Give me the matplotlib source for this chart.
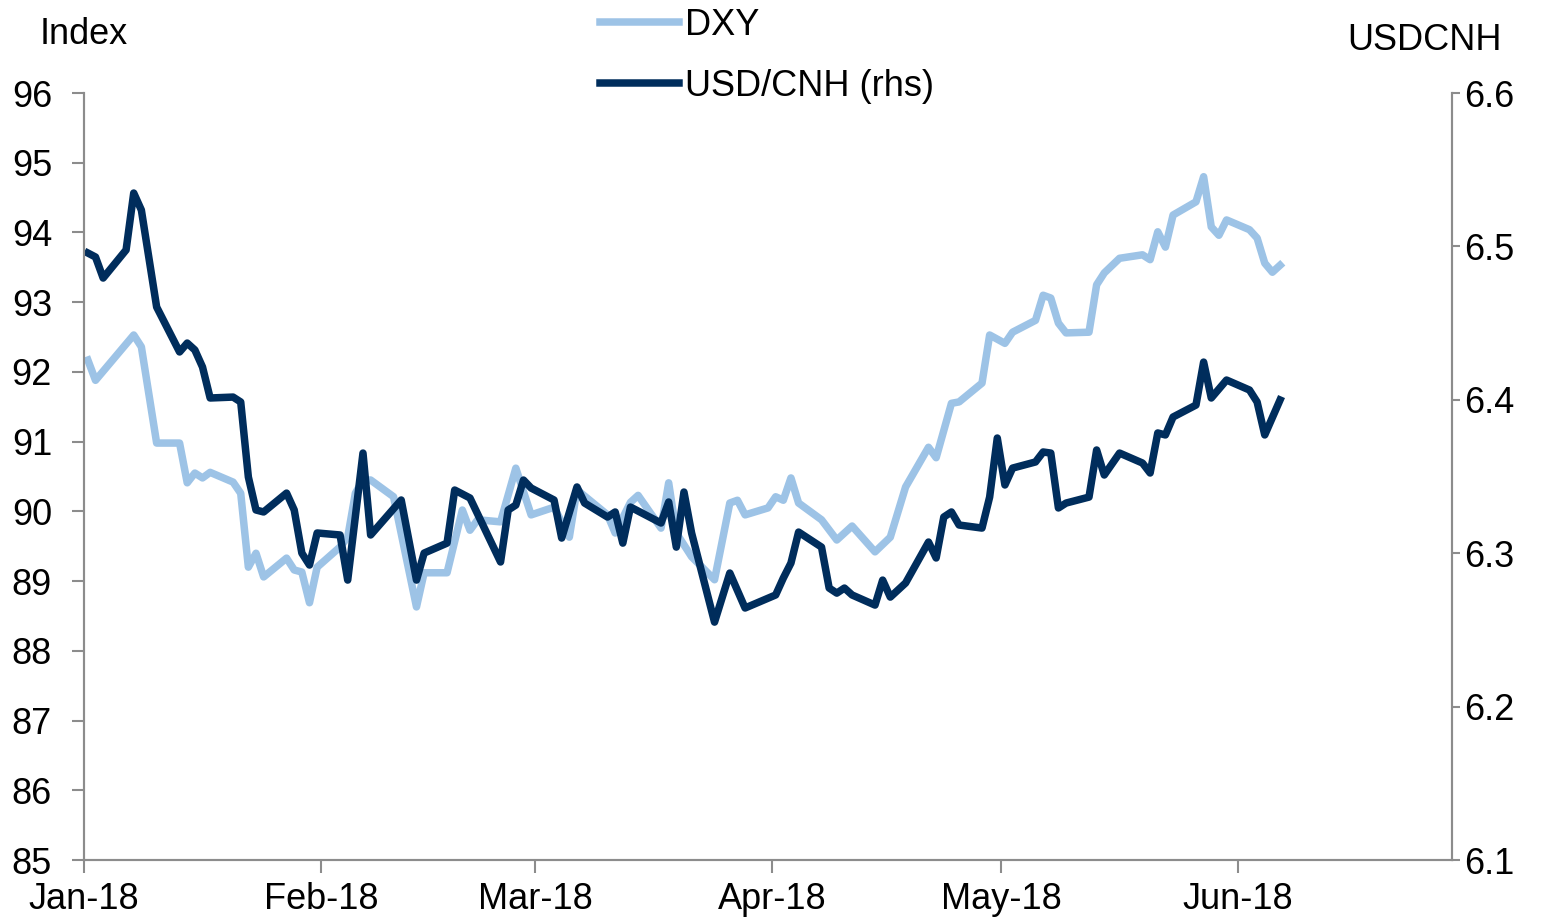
import numpy as np
import pandas as pd
import matplotlib
matplotlib.use("Agg")
import matplotlib.pyplot as plt
import matplotlib.dates as mdates

plt.rcParams['font.family'] = ['Liberation Sans', 'DejaVu Sans']

# DXY index (left axis), vertices
dxy_dates = ["2018-01-01", "2018-01-02", "2018-01-07", "2018-01-08", "2018-01-10",
             "2018-01-13", "2018-01-14", "2018-01-15", "2018-01-16", "2018-01-17",
             "2018-01-20", "2018-01-21", "2018-01-22", "2018-01-23", "2018-01-24",
             "2018-01-27", "2018-01-28", "2018-01-29", "2018-01-30", "2018-01-31",
             "2018-02-03", "2018-02-04", "2018-02-05", "2018-02-06", "2018-02-07",
             "2018-02-10", "2018-02-13", "2018-02-14", "2018-02-17", "2018-02-19",
             "2018-02-20", "2018-02-21", "2018-02-24", "2018-02-26", "2018-02-28",
             "2018-03-03", "2018-03-05", "2018-03-06", "2018-03-10", "2018-03-11",
             "2018-03-13", "2018-03-14", "2018-03-17", "2018-03-18", "2018-03-19",
             "2018-03-21", "2018-03-24", "2018-03-26", "2018-03-27", "2018-03-28",
             "2018-03-31", "2018-04-01", "2018-04-02", "2018-04-03", "2018-04-04",
             "2018-04-07", "2018-04-09", "2018-04-11", "2018-04-14", "2018-04-16",
             "2018-04-18", "2018-04-21", "2018-04-22", "2018-04-24", "2018-04-25",
             "2018-04-28", "2018-04-29", "2018-05-01", "2018-05-02", "2018-05-05",
             "2018-05-06", "2018-05-07", "2018-05-08", "2018-05-09", "2018-05-12",
             "2018-05-13", "2018-05-14", "2018-05-16", "2018-05-19", "2018-05-20",
             "2018-05-21", "2018-05-22", "2018-05-23", "2018-05-26", "2018-05-27",
             "2018-05-28", "2018-05-29", "2018-05-30", "2018-06-02", "2018-06-03",
             "2018-06-04", "2018-06-05", "2018-06-06"]
dxy_values = [92.17, 91.88, 92.53, 92.36, 90.98,
              90.98, 90.41, 90.55, 90.48, 90.56,
              90.42, 90.26, 89.20, 89.40, 89.06,
              89.33, 89.16, 89.13, 88.69, 89.20,
              89.49, 89.63, 90.26, 90.45, 90.45,
              90.21, 88.63, 89.12, 89.12, 90.02,
              89.73, 89.88, 89.85, 90.62, 89.95,
              90.06, 89.63, 90.31, 89.95, 89.69,
              90.13, 90.23, 89.76, 90.41, 89.69,
              89.35, 89.02, 90.12, 90.16, 89.95,
              90.05, 90.21, 90.16, 90.48, 90.12,
              89.88, 89.59, 89.79, 89.42, 89.63,
              90.35, 90.92, 90.77, 91.55, 91.57,
              91.84, 92.53, 92.41, 92.57, 92.74,
              93.10, 93.06, 92.70, 92.56, 92.57,
              93.25, 93.42, 93.63, 93.68, 93.61,
              94.01, 93.79, 94.25, 94.44, 94.80,
              94.08, 93.96, 94.18, 94.04, 93.92,
              93.56, 93.43, 93.53]

# USD/CNH (right axis)
cnh_dates = ["2018-01-01", "2018-01-02", "2018-01-03", "2018-01-06", "2018-01-07",
             "2018-01-08", "2018-01-10", "2018-01-13", "2018-01-14", "2018-01-15",
             "2018-01-16", "2018-01-17", "2018-01-20", "2018-01-21", "2018-01-22",
             "2018-01-23", "2018-01-24", "2018-01-27", "2018-01-28", "2018-01-29",
             "2018-01-30", "2018-01-31", "2018-02-03", "2018-02-04", "2018-02-06",
             "2018-02-07", "2018-02-11", "2018-02-13", "2018-02-14", "2018-02-17",
             "2018-02-18", "2018-02-20", "2018-02-24", "2018-02-25", "2018-02-26",
             "2018-02-27", "2018-02-28", "2018-03-03", "2018-03-04", "2018-03-06",
             "2018-03-07", "2018-03-10", "2018-03-11", "2018-03-12", "2018-03-13",
             "2018-03-17", "2018-03-18", "2018-03-19", "2018-03-20", "2018-03-21",
             "2018-03-24", "2018-03-26", "2018-03-28", "2018-04-01", "2018-04-02",
             "2018-04-03", "2018-04-04", "2018-04-07", "2018-04-08", "2018-04-09",
             "2018-04-10", "2018-04-11", "2018-04-14", "2018-04-15", "2018-04-16",
             "2018-04-18", "2018-04-21", "2018-04-22", "2018-04-23", "2018-04-24",
             "2018-04-25", "2018-04-28", "2018-04-29", "2018-04-30", "2018-05-01",
             "2018-05-02", "2018-05-05", "2018-05-06", "2018-05-07", "2018-05-08",
             "2018-05-09", "2018-05-12", "2018-05-13", "2018-05-14", "2018-05-16",
             "2018-05-19", "2018-05-20", "2018-05-21", "2018-05-22", "2018-05-23",
             "2018-05-26", "2018-05-27", "2018-05-28", "2018-05-30", "2018-06-02",
             "2018-06-03", "2018-06-04", "2018-06-06"]
cnh_values = [6.4957, 6.4931, 6.4794, 6.4977, 6.5348,
              6.5237, 6.4605, 6.4312, 6.4370, 6.4325,
              6.4214, 6.4012, 6.4018, 6.3986, 6.3497,
              6.3282, 6.3269, 6.3392, 6.3282, 6.3001,
              6.2923, 6.3132, 6.3119, 6.2825, 6.3653,
              6.3119, 6.3347, 6.2825, 6.3001, 6.3066,
              6.3412, 6.3360, 6.2943, 6.3282, 6.3314,
              6.3477, 6.3425, 6.3347, 6.3099, 6.3432,
              6.3327, 6.3236, 6.3269, 6.3066, 6.3301,
              6.3197, 6.3334, 6.3040, 6.3399, 6.3132,
              6.2551, 6.2871, 6.2643, 6.2728, 6.2838,
              6.2936, 6.3138, 6.3040, 6.2773, 6.2740,
              6.2773, 6.2728, 6.2662, 6.2825, 6.2714,
              6.2806, 6.3073, 6.2969, 6.3236, 6.3269,
              6.3184, 6.3164, 6.3366, 6.3751, 6.3445,
              6.3555, 6.3595, 6.3660, 6.3653, 6.3295,
              6.3327, 6.3366, 6.3673, 6.3510, 6.3653,
              6.3588, 6.3523, 6.3784, 6.3771, 6.3888,
              6.3966, 6.4246, 6.4012, 6.4129, 6.4064,
              6.3986, 6.3771, 6.3999]

left_ticks = list(range(85, 97))
right_ticks = [6.1, 6.2, 6.3, 6.4, 6.5, 6.6]
month_ticks = ["2018-01-01", "2018-02-01", "2018-03-01", "2018-04-01", "2018-05-01", "2018-06-01"]

light = "#9DC3E6"
dark = "#002D5C"
grey = "#8C8C8C"

# points sit in the middle of their day, like an Excel date axis
half_day = pd.Timedelta(hours=12)
dxy_x = pd.to_datetime(dxy_dates) + half_day
cnh_x = pd.to_datetime(cnh_dates) + half_day

fig = plt.figure(figsize=(15.45, 9.22), dpi=100)
ax = fig.add_axes([0.0544, 0.0672, 0.8854, 0.8319])
ax2 = ax.twinx()

l1, = ax.plot(dxy_x, dxy_values, color=light, lw=5.4, label="DXY", solid_joinstyle="round")
l2, = ax2.plot(cnh_x, cnh_values, color=dark, lw=5.4, label="USD/CNH (rhs)", solid_joinstyle="round")

ax.set_xlim(pd.Timestamp("2018-01-01"), pd.Timestamp("2018-06-29"))
ax.set_ylim(85, 96)
ax2.set_ylim(6.1, 6.6)
ax.set_yticks(left_ticks)
ax2.set_yticks(right_ticks)
ax2.set_yticklabels([f"{v:.1f}" for v in right_ticks])
ax.set_xticks(pd.to_datetime(month_ticks))
ax.xaxis.set_major_formatter(mdates.DateFormatter("%b-%y"))

for a in (ax, ax2):
    a.spines["top"].set_visible(False)
    for s in ("left", "right", "bottom"):
        a.spines[s].set_color(grey)
        a.spines[s].set_linewidth(1.5)
    a.tick_params(colors=grey, labelcolor="black", labelsize=26, length=9, width=1.5, direction="out")

ax.tick_params(axis="y", pad=14)
ax.tick_params(axis="x", pad=7)
ax2.tick_params(axis="y", length=6, pad=3)

fig.text(40 / 1545, 1 - 35 / 922, "Index", fontsize=26, ha="left", va="center")
fig.text(1347 / 1545, 1 - 40 / 922, "USDCNH", fontsize=26, ha="left", va="center")

fig.legend(handles=[l1, l2], loc="upper left", bbox_to_anchor=(578 / 1545, 1.015),
           frameon=False, fontsize=26, handlelength=2.2, handletextpad=0.15,
           labelspacing=0.72, borderpad=0.1)

fig.savefig("out.png", dpi=100)
